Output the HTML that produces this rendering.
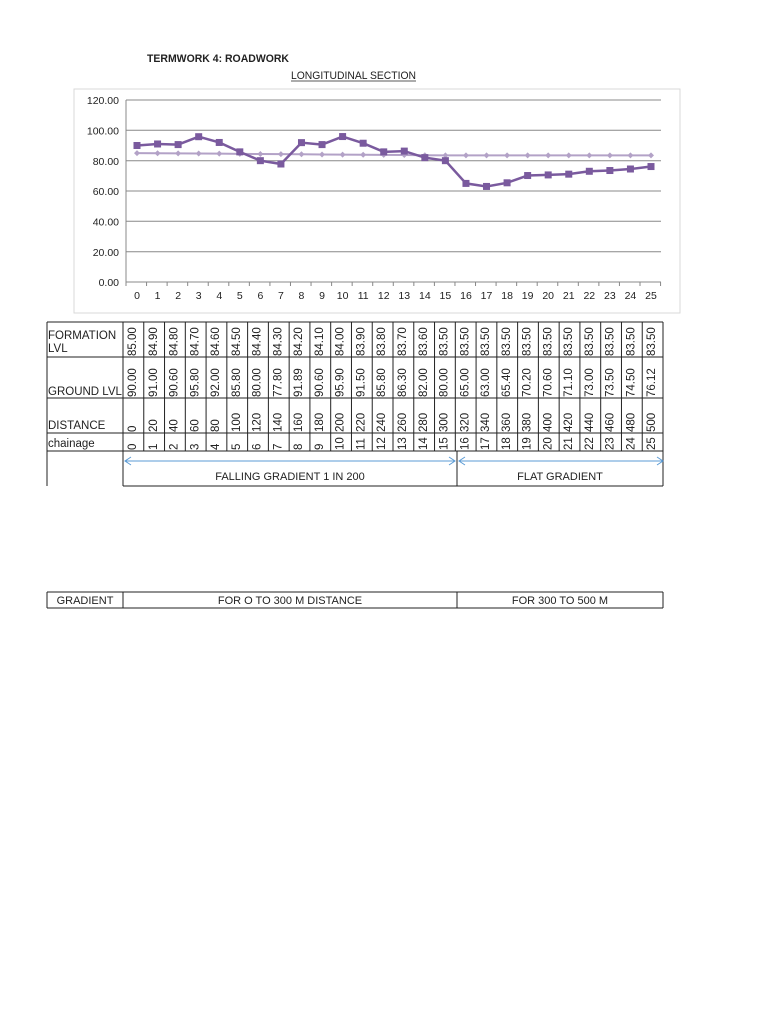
<!DOCTYPE html>
<html><head><style>
body{margin:0;background:#fff;}
svg{display:block;font-family:"Liberation Sans",sans-serif;}
</style></head><body>
<svg width="768" height="1024" viewBox="0 0 768 1024" xmlns="http://www.w3.org/2000/svg">
<text x="147" y="62" font-size="11" font-weight="bold" fill="#222" textLength="142" lengthAdjust="spacingAndGlyphs">TERMWORK 4: ROADWORK</text>
<text x="291" y="79" font-size="11" fill="#222" textLength="125" lengthAdjust="spacingAndGlyphs">LONGITUDINAL SECTION</text>
<line x1="291" y1="81" x2="416" y2="81" stroke="#222" stroke-width="0.8"/>
<rect x="74" y="89" width="606" height="224" fill="#fff" stroke="#d9d9d9"/>
<g stroke="#888" stroke-width="1">
<line x1="126" y1="100" x2="661" y2="100"/>
<line x1="126" y1="130.3" x2="661" y2="130.3"/>
<line x1="126" y1="160.7" x2="661" y2="160.7"/>
<line x1="126" y1="191" x2="661" y2="191"/>
<line x1="126" y1="221.3" x2="661" y2="221.3"/>
<line x1="126" y1="251.7" x2="661" y2="251.7"/>
<line x1="126" y1="282" x2="661" y2="282"/>
<line x1="126" y1="100" x2="126" y2="286"/>
</g>
<g font-size="10.5" fill="#222" text-anchor="end">
<text x="119" y="104">120.00</text><text x="119" y="134.5">100.00</text><text x="119" y="165">80.00</text><text x="119" y="195">60.00</text><text x="119" y="225.5">40.00</text><text x="119" y="256">20.00</text><text x="119" y="286">0.00</text>
</g>
<g id="ch"></g>
<script>
(function(){
var ns="http://www.w3.org/2000/svg",g=document.getElementById('ch');
function el(n,a,t){var e=document.createElementNS(ns,n);for(var k in a)e.setAttribute(k,a[k]);if(t!=null)e.textContent=t;g.appendChild(e);return e;}
var gr=[90,91,90.6,95.8,92,85.8,80,77.8,91.89,90.6,95.9,91.5,85.8,86.3,82,80,65,63,65.4,70.2,70.6,71.1,73,73.5,74.5,76.12];
var fm=[];for(var i=0;i<26;i++)fm.push(i<=15?85-0.1*i:83.5);
function X(i){return 137+i*20.56;}function Y(v){return 282-v*1.5167;}
for(var i=0;i<=26;i++){var x=126+i*20.56;el('line',{x1:x,y1:282,x2:x,y2:286,stroke:'#888'});}
for(var i=0;i<26;i++)el('text',{x:X(i),y:299,'font-size':'10.5','text-anchor':'middle',fill:'#222'},String(i));
el('polyline',{points:fm.map(function(v,i){return X(i)+','+Y(v)}).join(' '),fill:'none',stroke:'#b3a2c7','stroke-width':2});
fm.forEach(function(v,i){el('path',{d:'M'+X(i)+' '+(Y(v)-3)+'l3 3l-3 3l-3 -3z',fill:'#b3a2c7'});});
el('polyline',{points:gr.map(function(v,i){return X(i)+','+Y(v)}).join(' '),fill:'none',stroke:'#7a5a9e','stroke-width':2.5});
gr.forEach(function(v,i){el('rect',{x:X(i)-3.5,y:Y(v)-3.5,width:7,height:7,fill:'#7a5a9e'});});
var rows=[322,357,398,433,451,486],L=47,C=123,R=663,w=(R-C)/26;
function line(a,b,c,d){el('line',{x1:a,y1:b,x2:c,y2:d,stroke:'#222','stroke-width':1});}
for(var r=0;r<5;r++)line(L,rows[r],R,rows[r]);
line(C,486,R,486);line(L,322,L,486);line(R,322,R,486);line(C,322,C,486);
for(var i=1;i<26;i++){var x=C+i*w;line(x,322,x,451);}
line(457,451,457,486);
var lab=[['FORMATION',339],['LVL',352],['GROUND LVL',395],['DISTANCE',429],['chainage',447]];
lab.forEach(function(l){el('text',{x:48,y:l[1],'font-size':'11.5',fill:'#222'},l[0]);});
var data=[fm.map(function(v){return v.toFixed(2)}),gr.map(function(v){return v.toFixed(2)}),gr.map(function(v,i){return String(i*20)}),gr.map(function(v,i){return String(i)})];
for(var r=0;r<4;r++)for(var i=0;i<26;i++){var x=C+i*w+13,y=rows[r+1]-1;
el('text',{x:x,y:y,'font-size':'11.5',fill:'#222',transform:'rotate(-90 '+x+' '+y+')'},data[r][i]);}
var bl='#5b9bd5';
el('line',{x1:125,y1:461,x2:455,y2:461,stroke:bl,'stroke-width':1});
el('polyline',{points:'131,457 125,461 131,465',fill:'none',stroke:bl});
el('polyline',{points:'449,457 455,461 449,465',fill:'none',stroke:bl});
el('line',{x1:459,y1:461,x2:663,y2:461,stroke:bl,'stroke-width':1});
el('polyline',{points:'465,457 459,461 465,465',fill:'none',stroke:bl});
el('polyline',{points:'657,457 663,461 657,465',fill:'none',stroke:bl});
el('text',{x:290,y:480,'font-size':'11','text-anchor':'middle',fill:'#222'},'FALLING GRADIENT 1 IN 200');
el('text',{x:560,y:480,'font-size':'11','text-anchor':'middle',fill:'#222'},'FLAT GRADIENT');
line(47,592,663,592);line(47,608,663,608);line(47,592,47,608);line(123,592,123,608);line(457,592,457,608);line(663,592,663,608);
el('text',{x:85,y:604,'font-size':'11','text-anchor':'middle',fill:'#222'},'GRADIENT');
el('text',{x:290,y:604,'font-size':'11','text-anchor':'middle',fill:'#222'},'FOR O TO 300 M DISTANCE');
el('text',{x:560,y:604,'font-size':'11','text-anchor':'middle',fill:'#222'},'FOR 300 TO 500 M');
})();
</script>
</svg>
</body></html>
